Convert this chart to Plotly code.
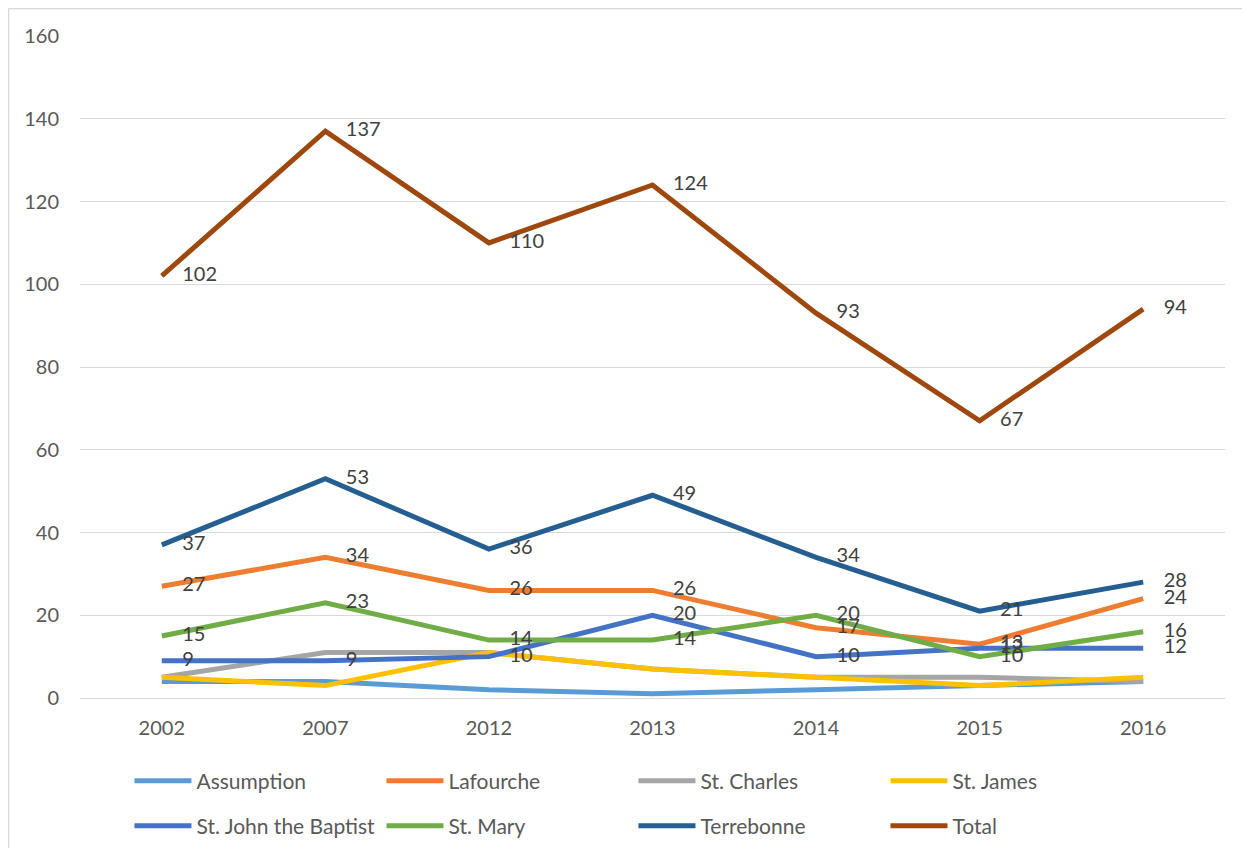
import plotly.graph_objects as go

years = ["2002", "2007", "2012", "2013", "2014", "2015", "2016"]
assumption = [4, 4, 2, 1, 2, 3, 4]
lafourche = [27, 34, 26, 26, 17, 13, 24]
st_charles = [5, 11, 11, 7, 5, 5, 4]
st_james = [5, 3, 11, 7, 5, 3, 5]
st_john = [9, 9, 10, 20, 10, 12, 12]
st_mary = [15, 23, 14, 14, 20, 10, 16]
terrebonne = [37, 53, 36, 49, 34, 21, 28]
total = [102, 137, 110, 124, 93, 67, 94]

series = [
    ("Assumption", assumption, "#5B9BD5", False, "legend"),
    ("Lafourche", lafourche, "#ED7D31", True, "legend"),
    ("St. Charles", st_charles, "#A5A5A5", False, "legend"),
    ("St. James", st_james, "#FFC000", False, "legend"),
    ("St. John the Baptist", st_john, "#4472C4", True, "legend2"),
    ("St. Mary", st_mary, "#70AD47", True, "legend2"),
    ("Terrebonne", terrebonne, "#255E91", True, "legend2"),
    ("Total", total, "#9E480E", True, "legend2"),
]

FONT = "Lato, Open Sans, sans-serif"
PAD = "\u00a0\u00a0\u00a0\u00a0"
fig = go.Figure()
for name, vals, color, labeled, lg in series:
    fig.add_trace(go.Scatter(x=years, y=vals, name=name, mode="lines",
                             line=dict(color=color, width=5), legend=lg,
                             hoverinfo="x+y+name"))
for name, vals, color, labeled, lg in series:
    if labeled:
        fig.add_trace(go.Scatter(x=years, y=vals, mode="text", showlegend=False,
                                 text=[PAD + str(v) for v in vals],
                                 textposition="middle right",
                                 textfont=dict(size=20, color="#404040", family=FONT),
                                 hoverinfo="skip"))

W, H = 1234, 840
ml, mr, mt, mb = 72, 17, 28, 150
pw, ph = W - ml - mr, H - mt - mb
fx = lambda px: (px - ml) / pw
fy = lambda py: 1 - (py - mt) / ph
frame = dict(color="#d9d9d9", width=1.5)
shapes = [
    dict(type="line", xref="paper", yref="paper", x0=fx(0.5), x1=fx(W), y0=fy(0.5), y1=fy(0.5),
         line=frame, layer="below"),
    dict(type="line", xref="paper", yref="paper", x0=fx(0.5), x1=fx(0.5), y0=fy(0.5), y1=fy(H),
         line=frame, layer="below"),
]

leg_common = dict(orientation="h", x=0.0432, xanchor="left", yanchor="middle",
                  entrywidth=180, entrywidthmode="pixels", itemwidth=57,
                  font=dict(size=21, color="#595959", family=FONT),
                  bgcolor="rgba(0,0,0,0)")

fig.update_layout(
    width=W, height=H,
    margin=dict(l=ml, r=mr, t=mt, b=mb, autoexpand=False),
    paper_bgcolor="white", plot_bgcolor="white",
    font=dict(family=FONT, size=20, color="#595959"),
    shapes=shapes,
    showlegend=True,
    legend=dict(y=-(781 - 698) / ph, **leg_common),
    legend2=dict(y=-(826 - 698) / ph, **leg_common),
    xaxis=dict(type="category", range=[-0.5, 6.5], showgrid=False, showline=False,
               ticks="", tickfont=dict(size=20, color="#595959"), ticklabelstandoff=16),
    yaxis=dict(range=[0, 160], dtick=20, showgrid=True, gridcolor="#d9d9d9", gridwidth=1.3,
               zeroline=True, zerolinecolor="#d9d9d9", zerolinewidth=1.3, showline=False,
               ticks="", tickfont=dict(size=20, color="#595959"), ticklabelstandoff=20),
)
fig.write_html("out.html")
